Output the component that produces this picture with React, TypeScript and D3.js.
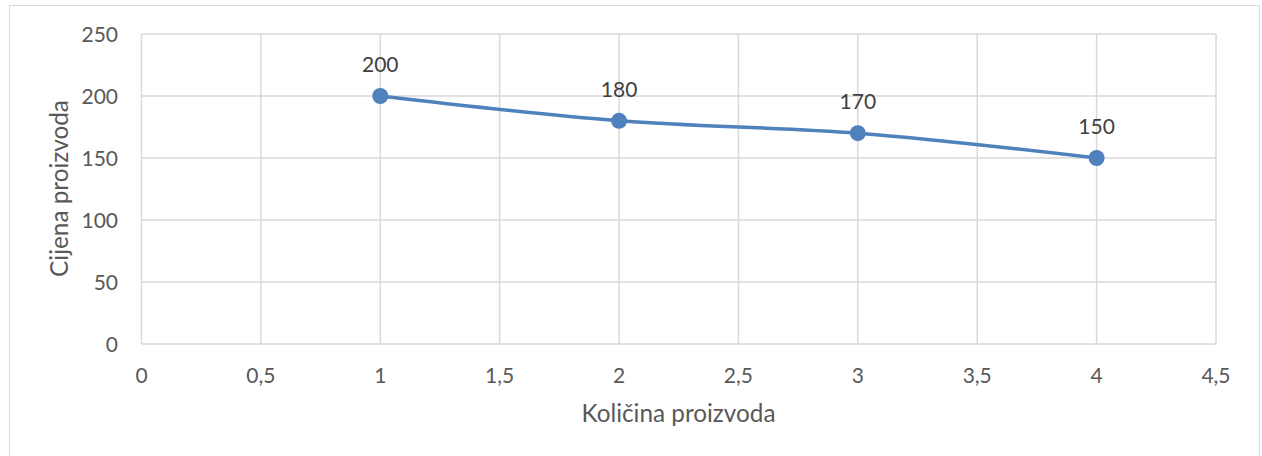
import React from "react";
import * as d3 from "d3";

const quantities = [1, 2, 3, 4];
const prices = [200, 180, 170, 150];
const xTicks = [0, 0.5, 1, 1.5, 2, 2.5, 3, 3.5, 4, 4.5];
const yTicks = [0, 50, 100, 150, 200, 250];
const xTitle = "Količina proizvoda";
const yTitle = "Cijena proizvoda";

const W = 1262;
const H = 456;
const FONT = "Lato, 'Open Sans', sans-serif";
const TICK = 21;
const TITLE = 24.3;

export default function App() {
  const x = d3.scaleLinear().domain([0, 4.5]).range([141.5, 1216]);
  const y = d3.scaleLinear().domain([0, 250]).range([344, 34]);
  const pts = quantities.map((q, i) => [x(q), y(prices[i])] as [number, number]);
  const line = d3.line().curve(d3.curveCardinal.tension(0))(pts) || "";
  const fmt = (v: number) => String(v).replace(".", ",");
  return (
    <svg width={W} height={H} style={{ position: "absolute", left: 0, top: 0 }}>
      <rect x={0} y={0} width={W} height={H} fill="#fff" />
      <rect x={9.5} y={5.5} width={1250} height={460} fill="#fff" stroke="#d9d9d9" strokeWidth={1} />
      {xTicks.map((t) => (
        <line key={"gx" + t} x1={x(t)} x2={x(t)} y1={y(250)} y2={y(0)} stroke="#d9d9d9" strokeWidth={1.5} />
      ))}
      {yTicks.map((t) => (
        <line key={"gy" + t} x1={x(0)} x2={x(4.5)} y1={y(t)} y2={y(t)} stroke="#d9d9d9" strokeWidth={1.5} />
      ))}
      {yTicks.map((t) => (
        <text key={"ty" + t} x={118} y={y(t)} dy="0.36em" textAnchor="end" fontFamily={FONT} fontSize={TICK} fill="#595959">
          {fmt(t)}
        </text>
      ))}
      {xTicks.map((t) => (
        <text key={"tx" + t} x={x(t)} y={383} textAnchor="middle" fontFamily={FONT} fontSize={TICK} fill="#595959">
          {fmt(t)}
        </text>
      ))}
      <text x={678.5} y={422} textAnchor="middle" fontFamily={FONT} fontSize={TITLE} fill="#595959">
        {xTitle}
      </text>
      <text transform={`translate(68,${188.5}) rotate(-90)`} textAnchor="middle" fontFamily={FONT} fontSize={TITLE} fill="#595959">
        {yTitle}
      </text>
      <path d={line} fill="none" stroke="#4f81bd" strokeWidth={3.5} strokeLinecap="round" />
      {pts.map((p, i) => (
        <g key={"p" + i}>
          <circle cx={p[0]} cy={p[1]} r={8} fill="#4f81bd" />
          <text x={p[0]} y={p[1] - 24} textAnchor="middle" fontFamily={FONT} fontSize={TICK} fill="#404040">
            {prices[i]}
          </text>
        </g>
      ))}
    </svg>
  );
}
